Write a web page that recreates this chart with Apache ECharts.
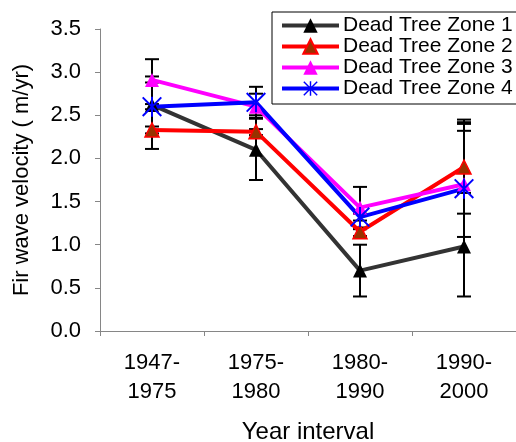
<!DOCTYPE html>
<html>
<head>
<meta charset="utf-8">
<script src="https://cdn.jsdelivr.net/npm/echarts@6/dist/echarts.min.js"></script>
<style>
html, body { margin: 0; padding: 0; background: #fff; }
#main { width: 516px; height: 442px; }
</style>
</head>
<body>
<div id="main"></div>
<script>
var categories = ['1947-\n1975', '1975-\n1980', '1980-\n1990', '1990-\n2000'];
var yTicks = [0, 0.5, 1.0, 1.5, 2.0, 2.5, 3.0, 3.5];

var zone1 = [2.62, 2.10, 0.70, 0.98];
var zone2 = [2.33, 2.31, 1.15, 1.90];
var zone3 = [2.91, 2.60, 1.43, 1.70];
var zone4 = [2.60, 2.65, 1.32, 1.65];

// error bars [low, high]
var zone1Err = [[2.11, 3.15], [1.75, 2.50], [0.40, 1.00], [0.40, 2.40]];
var zone2Err = [[2.29, 2.37], [2.27, 2.34], [1.10, 1.20], [1.36, 2.45]];
var zone3Err = [[2.88, 2.95], [2.46, 2.75], [1.18, 1.67], [1.09, 2.32]];
var zone4Err = [[2.57, 2.63], [2.47, 2.83], [1.28, 1.36], [1.60, 2.42]];

var FONT = 'Arial, "Liberation Sans", sans-serif';
var STAR = 'path://M9,0 L11,0 L11,20 L9,20 Z M0,1.4 L1.4,0 L20,18.6 L18.6,20 Z M18.6,0 L20,1.4 L1.4,20 L0,18.6 Z';

var errData = [];
[zone1Err, zone2Err, zone3Err, zone4Err].forEach(function(list){
	list.forEach(function(e, i){
		errData.push([i, e[0], e[1]]);
	});
});

function lineSeries(name, data, lineColor, symbol, size, fill, border){
	return {
		name : name,
		type : 'line',
		data : data,
		symbol : symbol,
		symbolSize : size,
		z : 3,
		lineStyle : { color : lineColor, width : 4 },
		itemStyle : { color : fill, borderColor : border, borderWidth : border ? 1.5 : 0 }
	};
}

var chart = echarts.init(document.getElementById('main'));
chart.setOption({
	animation : false,
	textStyle : { fontFamily : FONT, color : '#000' },
	grid : { left : 100, right : 0, top : 29, bottom : 111, containLabel : false, outerBoundsMode : 'none' },
	legend : {
		orient : 'vertical',
		left : 272,
		top : 12,
		padding : [3, 40, 5, 8],
		itemGap : 0,
		itemWidth : 57,
		itemHeight : 18,
		backgroundColor : '#fff',
		borderColor : '#000',
		borderWidth : 1,
		lineStyle : { width : 4 },
		textStyle : { fontFamily : FONT, fontSize : 21, color : '#000', lineHeight : 20, padding : [0, 0, 0, -1] },
		data : ['Dead Tree Zone 1', 'Dead Tree Zone 2', 'Dead Tree Zone 3', 'Dead Tree Zone 4']
	},
	xAxis : {
		type : 'category',
		data : categories,
		boundaryGap : true,
		name : 'Year interval',
		nameLocation : 'middle',
		nameGap : 89,
		nameTextStyle : { fontFamily : FONT, fontSize : 24, color : '#000' },
		axisLine : { show : true, lineStyle : { color : '#868686', width : 1 } },
		axisTick : { show : true, length : 5, lineStyle : { color : '#868686' } },
		axisLabel : { fontFamily : FONT, fontSize : 22, color : '#000', lineHeight : 29, margin : 17 },
		splitLine : { show : false }
	},
	yAxis : {
		type : 'value',
		min : yTicks[0],
		max : yTicks[yTicks.length - 1],
		interval : 0.5,
		name : 'Fir wave velocity ( m/yr)',
		nameLocation : 'middle',
		nameGap : 67,
		nameTextStyle : { fontFamily : FONT, fontSize : 22, color : '#000' },
		axisLine : { show : true, lineStyle : { color : '#868686', width : 1 } },
		axisTick : { show : true, length : 5, lineStyle : { color : '#868686' } },
		axisLabel : {
			fontFamily : FONT, fontSize : 22, color : '#000', margin : 19,
			formatter : function(v){ return v.toFixed(1); }
		},
		splitLine : { show : false }
	},
	series : [
		{
			type : 'custom',
			z : 2,
			data : errData,
			encode : { x : 0, y : [1, 2] },
			renderItem : function(params, api){
				var lo = api.coord([api.value(0), api.value(1)]);
				var hi = api.coord([api.value(0), api.value(2)]);
				var w = 7;
				var style = { stroke : '#000', lineWidth : 2 };
				return {
					type : 'group',
					children : [
						{ type : 'line', shape : { x1 : lo[0], y1 : lo[1], x2 : hi[0], y2 : hi[1] }, style : style },
						{ type : 'line', shape : { x1 : lo[0] - w, y1 : lo[1], x2 : lo[0] + w, y2 : lo[1] }, style : style },
						{ type : 'line', shape : { x1 : hi[0] - w, y1 : hi[1], x2 : hi[0] + w, y2 : hi[1] }, style : style }
					]
				};
			}
		},
		lineSeries('Dead Tree Zone 1', zone1, '#333333', 'triangle', 14, '#000000', null),
		lineSeries('Dead Tree Zone 2', zone2, '#ff0000', 'triangle', 14, '#993300', '#ff0000'),
		lineSeries('Dead Tree Zone 3', zone3, '#ff00ff', 'triangle', 14, '#ff00ff', null),
		lineSeries('Dead Tree Zone 4', zone4, '#0000ff', STAR, 20, '#0000ff', null)
	]
});
</script>
</body>
</html>
